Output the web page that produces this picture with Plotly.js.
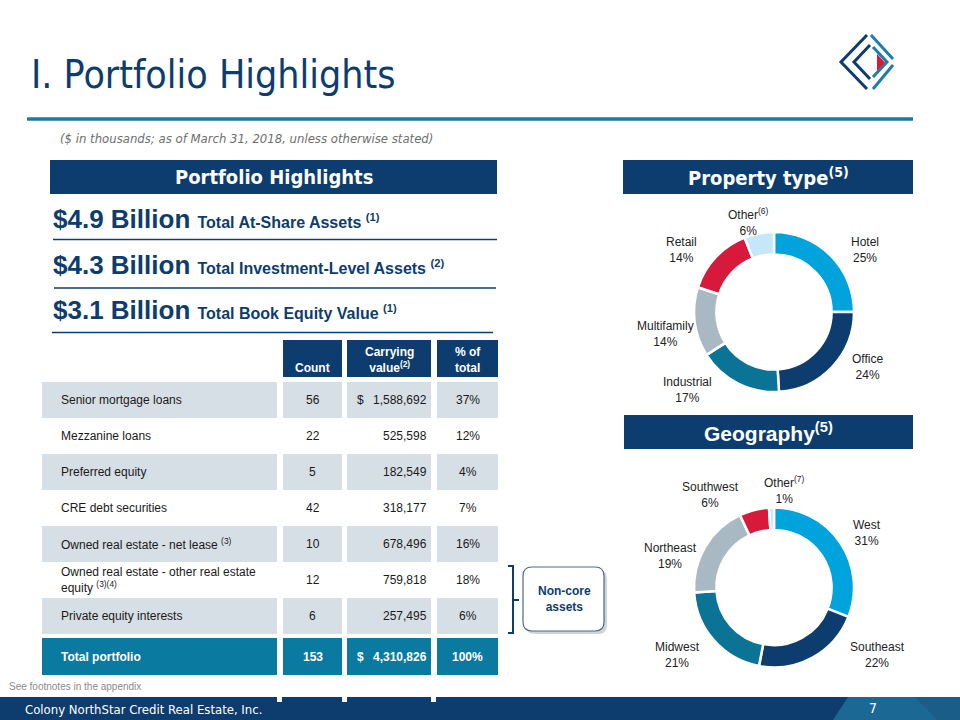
<!DOCTYPE html>
<html>
<head>
<meta charset="utf-8">
<script src="https://cdn.plot.ly/plotly-3.0.1.min.js"></script>
<style>html,body{margin:0;padding:0;background:#fff;}#chart{width:960px;height:720px;}</style>
</head>
<body>
<div id="chart"></div>
<script>
// ---------- DATA ----------
const tableHeader = ['', 'Count', 'Carrying<br>value<sup>(2)</sup>', '% of<br>total'];
const rowNames = ['Senior mortgage loans', 'Mezzanine loans', 'Preferred equity', 'CRE debt securities',
  'Owned real estate - net lease <sup>(3)</sup>', 'Owned real estate - other real estate<br>equity <sup>(3)(4)</sup>',
  'Private equity interests', 'Total portfolio'];
const rowCounts = [56, 22, 5, 42, 10, 12, 6, 153];
const rowCarrying = [1588692, 525598, 182549, 318177, 678496, 759818, 257495, 4310826];
const rowPct = [37, 12, 4, 7, 16, 18, 6, 100];

const statValues = ['$4.9 Billion', '$4.3 Billion', '$3.1 Billion'];
const statLabels = ['Total At-Share Assets <sup>(1)</sup>', 'Total Investment-Level Assets <sup>(2)</sup>', 'Total Book Equity Value <sup>(1)</sup>'];

const propLabels = ['Hotel', 'Office', 'Industrial', 'Multifamily', 'Retail', 'Other<sup>(6)</sup>'];
const propValues = [25, 24, 17, 14, 14, 6];
const geoLabels = ['West', 'Southeast', 'Midwest', 'Northeast', 'Southwest', 'Other<sup>(7)</sup>'];
const geoValues = [31, 22, 21, 19, 6, 1];

// ---------- STYLE ----------
const NAVY = '#0d3c6e', TEAL = '#0a7aa0', LBLUE = '#00a3dc', GRAY = '#a9b9c3', RED = '#d71a3c', PALE = '#c5e7f8';
const ROWGRAY = '#d6dee6';
const sliceColors = [LBLUE, NAVY, '#0a7396', GRAY, RED, PALE];
const ARIAL = 'Liberation Sans, Arial, sans-serif';
const NARROW = 'Liberation Sans Narrow, Arial Narrow, DejaVu Sans Condensed, sans-serif';
const W = 960, H = 720;
const X = x => x / W, Y = y => 1 - y / H;

const annotations = [];
function ann(text, x, y, opts) {
  annotations.push(Object.assign({text: text, x: X(x), y: Y(y), xref: 'paper', yref: 'paper', showarrow: false,
    xanchor: 'left', yanchor: 'middle', align: 'left', font: {family: ARIAL, size: 12, color: '#1a1a1a'}}, opts || {}));
}
const shapes = [];
function rect(x0, y0, x1, y1, color, extra) {
  shapes.push(Object.assign({type: 'rect', xref: 'paper', yref: 'paper', x0: X(x0), x1: X(x1), y0: Y(y1), y1: Y(y0),
    fillcolor: color, line: {width: 0}, layer: 'above'}, extra || {}));
}
function line(x0, y0, x1, y1, color, w) {
  shapes.push({type: 'line', xref: 'paper', yref: 'paper', x0: X(x0), x1: X(x1), y0: Y(y0), y1: Y(y1),
    line: {color: color, width: w}, layer: 'above'});
}
function path(pts, stroke, w, fill, closed) {
  const d = pts.map((p, i) => (p[0] === 'Q' ? 'Q' + X(p[1]) + ',' + Y(p[2]) + ' ' + X(p[3]) + ',' + Y(p[4])
    : (i === 0 ? 'M' : 'L') + X(p[0]) + ',' + Y(p[1]))).join(' ') + (closed ? ' Z' : '');
  shapes.push({type: 'path', xref: 'paper', yref: 'paper', path: d,
    line: {color: stroke || 'rgba(0,0,0,0)', width: w || 0}, fillcolor: fill || 'rgba(0,0,0,0)', layer: 'above'});
}

// ---------- TABLE (cells from the data arrays) ----------
const colEdges = [[42, 277], [283, 342], [347, 431], [437, 498]];
const headerTop = 340, headerBot = 377, rowTop0 = 382, rowPitch = 36, totTop = 638, totBot = 675;
const nRows = rowNames.length;
tableHeader.forEach((t, j) => {
  if (!t) return;
  const [a, b] = colEdges[j];
  rect(a, headerTop, b, headerBot, NAVY);
  const lines = t.split('<br>').length;
  ann('<b>' + t + '</b>', (a + b) / 2, lines === 1 ? 368 : 360, {xanchor: 'center', align: 'center', font: {family: ARIAL, size: 12, color: '#ffffff'}});
});
rowNames.forEach((name, i) => {
  const tot = i === nRows - 1;
  const top = tot ? totTop : rowTop0 + rowPitch * i;
  const bot = tot ? totBot : top + rowPitch;
  const cy = (top + bot) / 2;
  const fill = tot ? TEAL : (i % 2 === 0 ? ROWGRAY : null);
  if (fill) colEdges.forEach(([a, b]) => rect(a, top, b, bot, fill));
  const fc = tot ? '#ffffff' : '#1a1a1a';
  const B = s => tot ? '<b>' + s + '</b>' : s;
  const f = {family: ARIAL, size: 12, color: fc};
  ann(B(name), 59, cy, {font: f});
  ann(B(String(rowCounts[i])), (colEdges[1][0] + colEdges[1][1]) / 2, cy, {xanchor: 'center', font: f});
  ann(B(rowCarrying[i].toLocaleString('en-US')), 429, cy, {xanchor: 'right', font: f});
  if (i === 0 || tot) ann(B('$'), 355, cy, {font: f});
  ann(B(rowPct[i] + '%'), (colEdges[3][0] + colEdges[3][1]) / 2, cy, {xanchor: 'center', font: f});
});

// ---------- DONUTS ----------
function donut(labels, values, cx, cy, r) {
  return {
    type: 'pie', labels: labels, values: values, hole: 0.72, sort: false,
    direction: 'clockwise', rotation: 0, textinfo: 'none', hoverinfo: 'label+percent',
    marker: {colors: sliceColors, line: {color: '#ffffff', width: 2.5}},
    domain: {x: [X(cx - r), X(cx + r)], y: [Y(cy + r), Y(cy - r)]},
    showlegend: false
  };
}
const propTrace = donut(propLabels, propValues, 774, 312, 80);
const geoTrace = donut(geoLabels, geoValues, 774, 587.5, 80);

const propPos = [[865, 250], [867, 367], [687, 390], [665, 334], [681, 250], [748, 222]];
const geoPos = [[867, 533], [877, 655], [677, 655], [670, 556], [710, 495], [784, 490]];
const lblFont = {family: ARIAL, size: 12, color: '#222'};
propLabels.forEach((l, i) => ann(l + '<br>' + propValues[i] + '%', propPos[i][0], propPos[i][1], {xanchor: 'center', align: 'center', font: lblFont}));
geoLabels.forEach((l, i) => ann(l + '<br>' + geoValues[i] + '%', geoPos[i][0], geoPos[i][1], {xanchor: 'center', align: 'center', font: lblFont}));

// ---------- TEXT ----------
ann('I. Portfolio Highlights', 29, 75, {font: {family: NARROW, size: 39, color: NAVY}});
ann('<i>($ in thousands; as of March 31, 2018, unless otherwise stated)</i>', 58, 138, {font: {family: NARROW, size: 13, color: '#6e6e6e'}});
ann('<b>Portfolio Highlights</b>', 273.5, 177, {xanchor: 'center', font: {family: NARROW, size: 20, color: '#ffffff'}});
ann('<b>Property type<sup>(5)</sup></b>', 768, 177, {xanchor: 'center', font: {family: NARROW, size: 20, color: '#ffffff'}});
ann('<b>Geography<sup>(5)</sup></b>', 768, 432, {xanchor: 'center', font: {family: ARIAL, size: 21, color: '#ffffff'}});
const statY = [219, 265, 310];
statValues.forEach((v, i) => ann('<b>' + v + ' <span style="font-size:16px">' + statLabels[i] + '</span></b>', 51, statY[i], {font: {family: ARIAL, size: 26, color: NAVY}}));
ann('<b>Non-core<br>assets</b>', 564, 599, {xanchor: 'center', align: 'center', font: {family: ARIAL, size: 12, color: NAVY}});
ann('See footnotes in the appendix', 7, 686, {font: {family: ARIAL, size: 10, color: '#8a8a8a'}});
ann('Colony NorthStar Credit Real Estate, Inc.', 23, 709, {font: {family: NARROW, size: 13, color: '#ffffff'}});
ann('7', 873, 708, {xanchor: 'center', font: {family: NARROW, size: 14, color: '#ffffff'}});

// ---------- DECORATION SHAPES ----------
line(27, 119, 913, 119, '#1b7a9e', 3.5);
rect(50, 160, 497, 194, NAVY);
rect(623, 160, 913, 194, NAVY);
rect(624, 415, 913, 449, NAVY);
line(53, 239.5, 497, 239.5, NAVY, 1.5);
line(54, 288, 496, 288, NAVY, 1.5);
line(52, 332.5, 493, 332.5, NAVY, 1.5);
path([[508, 566], [513, 566], [513, 633], [508, 633]], NAVY, 2);
line(513, 600, 519, 600, NAVY, 2);
function rbox(x0, y0, x1, y1, r, stroke, w, fill) {
  path([[x0 + r, y0], [x1 - r, y0], ['Q', x1, y0, x1, y0 + r], [x1, y1 - r], ['Q', x1, y1, x1 - r, y1],
    [x0 + r, y1], ['Q', x0, y1, x0, y1 - r], [x0, y0 + r], ['Q', x0, y0, x0 + r, y0]], stroke, w, fill, true);
}
rbox(526, 570, 607, 634, 9, 'rgba(0,0,0,0)', 0, 'rgba(120,130,140,0.35)');
rbox(523, 567, 604, 631, 9, '#4a6a88', 1.2, '#ffffff');
rect(0, 697, 960, 720, NAVY);
path([[848, 697], [960, 697], [960, 720], [833, 720]], null, 0, '#1c6894', true);
path([[915, 697], [960, 697], [960, 720], [937, 720]], null, 0, '#195d88', true);
rect(277, 697, 282, 702, '#ffffff');
rect(342, 697, 347, 702, '#ffffff');
rect(431, 697, 436, 702, '#ffffff');
path([[867, 35], [841, 62], [867, 89]], NAVY, 3);
path([[870, 45], [854, 62], [870, 79]], NAVY, 3);
path([[871, 35], [893, 59]], '#1f7ea3', 3);
path([[893, 65], [873, 89]], '#1f7ea3', 3);
path([[873, 47], [887, 62], [873, 77]], '#1f7ea3', 3);
path([[877, 54], [885, 62.5], [877, 71]], null, 0, RED, true);

const layout = {
  width: W, height: H, margin: {l: 0, r: 0, t: 0, b: 0},
  paper_bgcolor: '#ffffff', plot_bgcolor: '#ffffff',
  showlegend: false, shapes: shapes, annotations: annotations
};
Plotly.newPlot('chart', [propTrace, geoTrace], layout, {displayModeBar: false, staticPlot: true});
</script>
</body>
</html>
